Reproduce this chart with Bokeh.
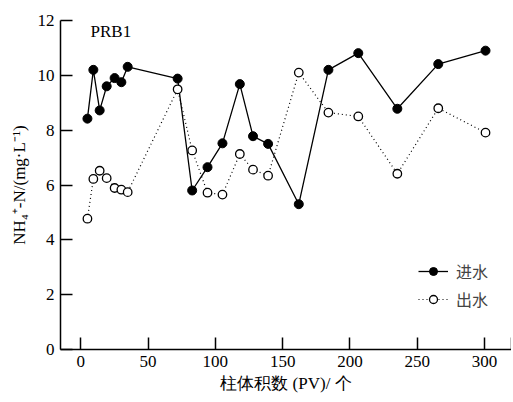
from bokeh.plotting import figure
from bokeh.models import Range1d, FixedTicker, Legend, LegendItem, Label
from bokeh.embed import file_html
from bokeh.resources import INLINE

pv = [5, 9.4, 14.1, 19.3, 25.2, 30.2, 34.9, 72, 82.8, 94.2, 105.3, 118.2, 128, 139.2,
      162, 184, 206.2, 235.2, 265.6, 300.7]
inflow = [8.42, 10.2, 8.72, 9.6, 9.9, 9.75, 10.31, 9.88, 5.8, 6.65, 7.52, 9.68, 7.78, 7.5,
          5.3, 10.2, 10.81, 8.78, 10.41, 10.9]
outflow = [4.77, 6.22, 6.52, 6.25, 5.89, 5.83, 5.74, 9.49, 7.26, 5.72, 5.65, 7.13, 6.56, 6.34,
           10.1, 8.64, 8.5, 6.41, 8.8, 7.91]
x_ticks = [0, 50, 100, 150, 200, 250, 300, 320]
y_ticks = [0, 2, 4, 6, 8, 10, 12]
series_names = ["进水", "出水"]
panel_label = "PRB1"

SERIF = "Liberation Serif"
CJK = "Noto Sans CJK SC"

p = figure(width=511, height=398, output_backend="svg", toolbar_location=None,
           x_range=Range1d(-15, 320), y_range=Range1d(0, 12),
           min_border_left=60, min_border_right=0, min_border_top=20, min_border_bottom=49)
p.outline_line_color = None
p.grid.grid_line_color = None
p.background_fill_color = "white"

r1 = p.line(pv, inflow, line_color="black", line_width=1.3)
r1c = p.scatter(pv, inflow, size=9, fill_color="black", line_color="black")
r2 = p.line(pv, outflow, line_color="black", line_width=1.2, line_dash="1 3")
r2c = p.scatter(pv, outflow, size=8.5, fill_color="white", line_color="black", line_width=1.3)

for ax in (p.xaxis[0], p.yaxis[0]):
    ax.major_tick_in = 12
    ax.major_tick_out = 0
    ax.minor_tick_in = 0
    ax.minor_tick_out = 0
    ax.axis_line_width = 1.5
    ax.major_tick_line_width = 1.5
    ax.major_label_text_font = SERIF
    ax.major_label_text_font_size = "17px"
    ax.major_label_text_color = "black"
    ax.axis_label_text_font = SERIF
    ax.axis_label_text_font_style = "normal"
    ax.axis_label_text_font_size = "17px"
    ax.axis_label_text_color = "black"

p.xaxis.ticker = FixedTicker(ticks=x_ticks)
p.xaxis.major_label_overrides = {320: ""}
p.yaxis.ticker = FixedTicker(ticks=y_ticks)
p.xaxis.axis_label = "柱体积数 (PV)/ 个"
p.yaxis.axis_label = "NH₄⁺-N/(mg·L⁻¹)"
p.xaxis.major_label_standoff = 6
p.yaxis.major_label_standoff = 6
p.xaxis.axis_label_standoff = 4
p.yaxis.axis_label_standoff = 6

legend = Legend(items=[LegendItem(label=series_names[0], renderers=[r1, r1c]),
                       LegendItem(label=series_names[1], renderers=[r2, r2c])],
                location=(358, 38), glyph_width=30, glyph_height=20, spacing=4,
                padding=4, border_line_color=None, background_fill_alpha=0,
                label_text_font=CJK, label_text_font_size="16px", label_standoff=8)
p.add_layout(legend)

p.add_layout(Label(x=30, y=309, x_units="screen", y_units="screen", text=panel_label,
                   text_font=SERIF, text_font_size="17px", text_color="black"))

open("out.html", "w").write(file_html(p, INLINE))
